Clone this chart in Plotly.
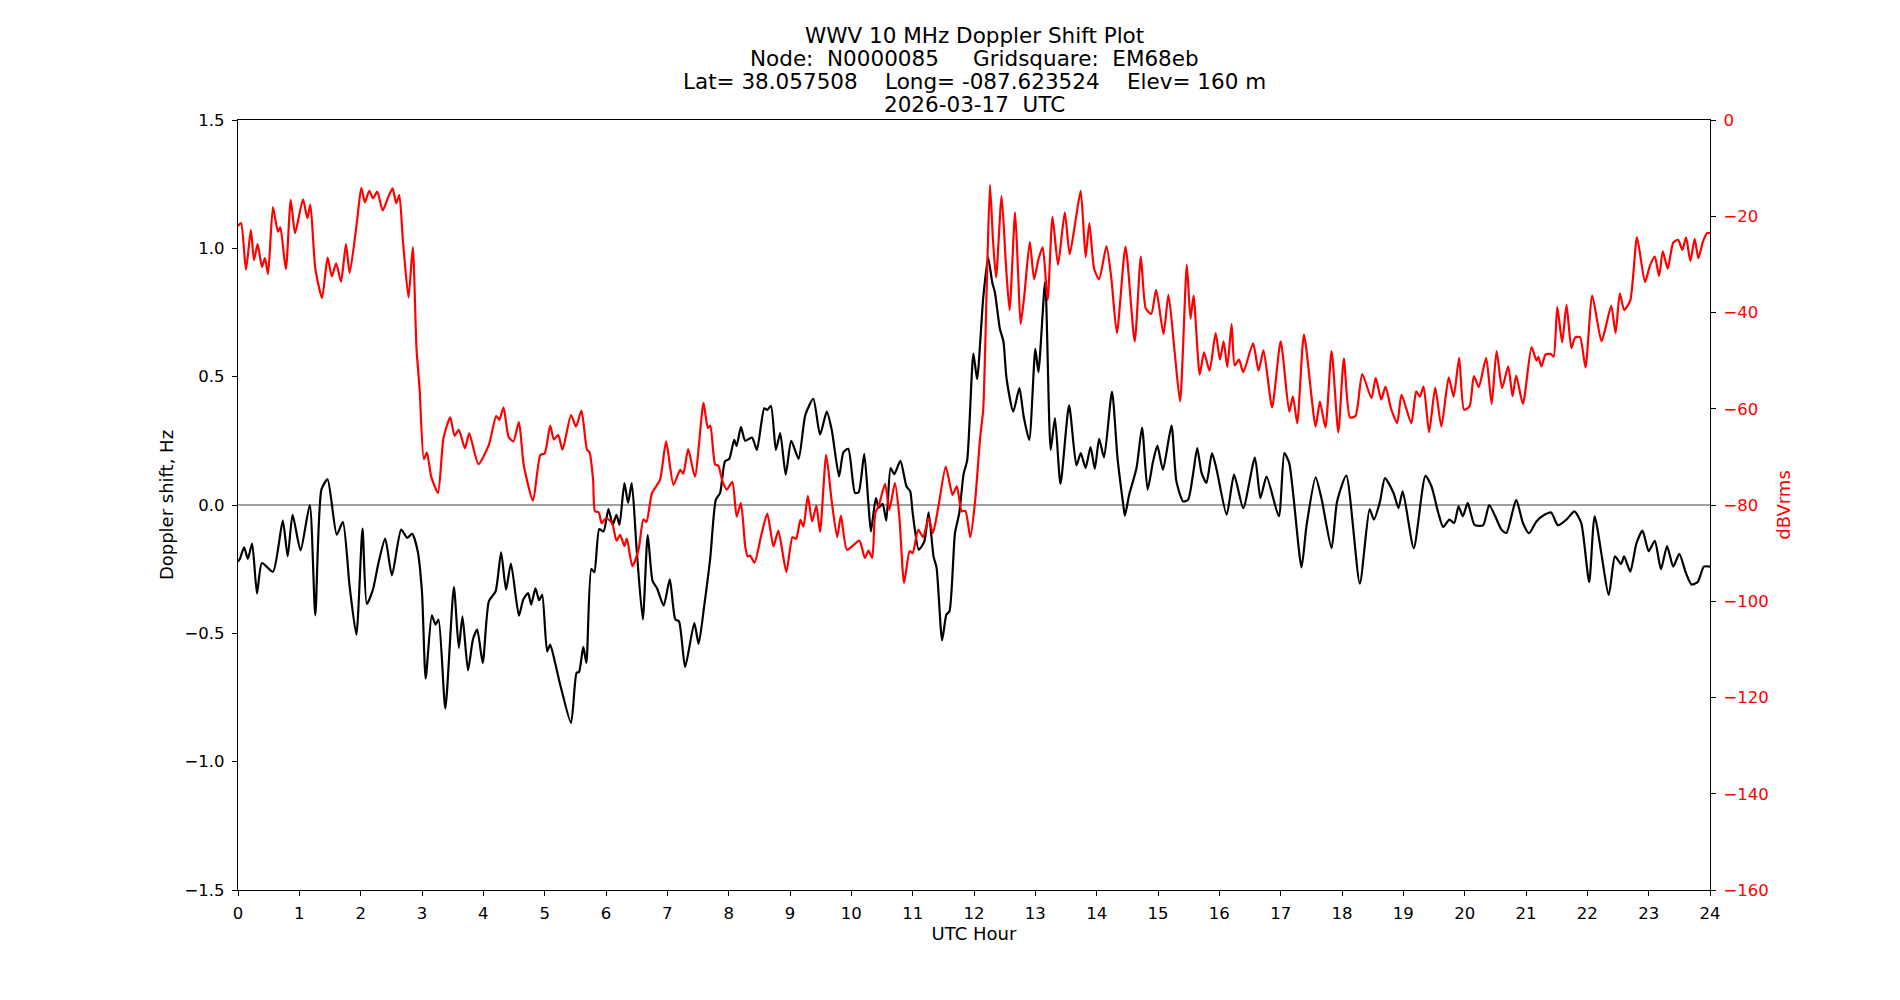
import plotly.graph_objects as go

# ---------------- data ----------------
title_lines = [
    "WWV 10 MHz Doppler Shift Plot",
    "Node:  N0000085     Gridsquare:  EM68eb",
    "Lat= 38.057508    Long= -087.623524    Elev= 160 m",
    "2026-03-17  UTC",
]

x_ticks = list(range(0, 25))
y_ticks = [-1.5, -1.0, -0.5, 0.0, 0.5, 1.0, 1.5]
y2_ticks = [-160, -140, -120, -100, -80, -60, -40, -20, 0]

doppler_hours = [
    0.0, 0.03, 0.1, 0.16, 0.23, 0.31, 0.39, 0.57, 0.73, 0.81, 0.89, 1.02, 1.17, 1.26, 1.36, 1.46,
    1.61, 1.71, 1.82, 1.93, 2.03, 2.1, 2.2, 2.29, 2.4, 2.51, 2.66, 2.76, 2.84, 2.93, 3.0, 3.06,
    3.16, 3.22, 3.27, 3.38, 3.52, 3.6, 3.66, 3.75, 3.83, 3.9, 3.99, 4.09, 4.2, 4.29, 4.37, 4.45,
    4.58, 4.65, 4.73, 4.78, 4.85, 4.91, 4.96, 5.04, 5.09, 5.17, 5.26, 5.43, 5.52, 5.56, 5.63, 5.68,
    5.76, 5.81, 5.89, 5.96, 6.04, 6.11, 6.17, 6.22, 6.3, 6.36, 6.42, 6.5, 6.6, 6.68, 6.76, 6.83,
    6.94, 7.04, 7.13, 7.19, 7.29, 7.44, 7.51, 7.6, 7.7, 7.79, 7.86, 7.94, 8.01, 8.09, 8.13, 8.2,
    8.27, 8.38, 8.46, 8.58, 8.63, 8.69, 8.77, 8.84, 8.93, 9.02, 9.14, 9.25, 9.38, 9.49, 9.6, 9.68,
    9.8, 9.87, 9.95, 10.06, 10.12, 10.21, 10.28, 10.32, 10.4, 10.45, 10.51, 10.57, 10.64, 10.7, 10.8, 10.9,
    10.96, 11.0, 11.1, 11.19, 11.26, 11.34, 11.39, 11.48, 11.55, 11.6, 11.69, 11.76, 11.83, 11.89, 11.99, 12.05,
    12.15, 12.23, 12.3, 12.34, 12.42, 12.48, 12.53, 12.64, 12.74, 12.81, 12.9, 13.0, 13.05, 13.16, 13.25, 13.32,
    13.41, 13.55, 13.67, 13.74, 13.82, 13.9, 13.97, 14.04, 14.12, 14.25, 14.34, 14.43, 14.46, 14.53, 14.65, 14.74,
    14.83, 14.92, 14.99, 15.08, 15.22, 15.3, 15.41, 15.49, 15.57, 15.64, 15.71, 15.79, 15.88, 15.95, 16.12, 16.24,
    16.39, 16.58, 16.67, 16.77, 16.97, 17.06, 17.14, 17.34, 17.42, 17.57, 17.67, 17.83, 17.92, 18.07, 18.29, 18.45,
    18.52, 18.62, 18.7, 18.84, 18.92, 18.99, 19.17, 19.36, 19.46, 19.57, 19.65, 19.75, 19.83, 19.9, 19.97, 20.05,
    20.16, 20.3, 20.4, 20.5, 20.6, 20.68, 20.84, 20.95, 21.05, 21.17, 21.3, 21.41, 21.52, 21.66, 21.79, 21.9,
    22.03, 22.12, 22.35, 22.45, 22.55, 22.6, 22.7, 22.8, 22.9, 23.0, 23.1, 23.2, 23.3, 23.4, 23.5, 23.6,
    23.7, 23.8, 23.9, 24.0,
]
doppler_hz = [
    -0.22, -0.21, -0.165, -0.21, -0.15, -0.345, -0.226, -0.26, -0.061, -0.2, -0.038, -0.177, 0.0, -0.43, 0.06, 0.1,
    -0.116, -0.066, -0.317, -0.505, -0.092, -0.385, -0.33, -0.226, -0.131, -0.274, -0.096, -0.128, -0.112, -0.18, -0.34, -0.676,
    -0.43, -0.466, -0.446, -0.793, -0.32, -0.557, -0.434, -0.644, -0.524, -0.485, -0.615, -0.375, -0.336, -0.184, -0.33, -0.228,
    -0.431, -0.369, -0.343, -0.388, -0.325, -0.371, -0.35, -0.57, -0.544, -0.615, -0.706, -0.849, -0.654, -0.651, -0.553, -0.615,
    -0.249, -0.262, -0.094, -0.103, -0.016, -0.077, -0.038, -0.077, 0.085, 0.008, 0.085, -0.174, -0.446, -0.116, -0.297, -0.323,
    -0.392, -0.29, -0.446, -0.453, -0.631, -0.46, -0.541, -0.395, -0.206, 0.02, 0.047, 0.17, 0.18, 0.254, 0.23, 0.304,
    0.25, 0.263, 0.215, 0.377, 0.37, 0.386, 0.215, 0.28, 0.118, 0.25, 0.18, 0.351, 0.414, 0.274, 0.364, 0.293,
    0.111, 0.205, 0.219, 0.047, 0.05, 0.199, 0.0, -0.103, 0.027, -0.01, 0.005, -0.061, 0.144, 0.12, 0.172, 0.072,
    0.053, -0.031, -0.174, -0.142, -0.029, -0.2, -0.245, -0.527, -0.427, -0.414, -0.109, -0.031, 0.12, 0.176, 0.59, 0.49,
    0.806, 0.964, 0.864, 0.83, 0.689, 0.637, 0.494, 0.364, 0.455, 0.345, 0.254, 0.608, 0.518, 0.87, 0.215, 0.339,
    0.082, 0.388, 0.154, 0.202, 0.144, 0.226, 0.141, 0.258, 0.185, 0.442, 0.183, 0.008, -0.042, 0.04, 0.144, 0.302,
    0.06, 0.17, 0.231, 0.137, 0.309, 0.092, 0.014, 0.02, 0.118, 0.222, 0.125, 0.086, 0.202, 0.144, -0.038, 0.118,
    -0.012, 0.185, 0.027, 0.111, -0.044, 0.202, 0.163, -0.243, -0.083, 0.108, 0.02, -0.168, 0.014, 0.115, -0.306, -0.016,
    -0.057, 0.014, 0.105, 0.047, -0.012, 0.053, -0.168, 0.114, 0.072, -0.031, -0.086, -0.057, -0.07, -0.005, -0.044, 0.008,
    -0.077, -0.079, 0.0, -0.045, -0.096, -0.109, 0.02, -0.07, -0.11, -0.064, -0.038, -0.029, -0.079, -0.057, -0.025, -0.07,
    -0.3, -0.044, -0.35, -0.2, -0.23, -0.2, -0.26, -0.15, -0.1, -0.18, -0.14, -0.25, -0.16, -0.24, -0.19, -0.26,
    -0.31, -0.3, -0.24, -0.24,
]

power_hours = [
    0.0, 0.05, 0.13, 0.21, 0.26, 0.32, 0.39, 0.44, 0.49, 0.57, 0.65, 0.69, 0.78, 0.86, 0.93, 1.06,
    1.13, 1.18, 1.26, 1.37, 1.46, 1.53, 1.6, 1.68, 1.76, 1.82, 1.94, 2.01, 2.07, 2.14, 2.2, 2.27,
    2.36, 2.45, 2.52, 2.58, 2.63, 2.69, 2.78, 2.85, 2.91, 2.96, 3.03, 3.08, 3.15, 3.26, 3.35, 3.46,
    3.53, 3.6, 3.7, 3.77, 3.92, 4.09, 4.21, 4.26, 4.33, 4.41, 4.49, 4.58, 4.66, 4.81, 4.93, 5.0,
    5.09, 5.15, 5.22, 5.29, 5.43, 5.51, 5.6, 5.69, 5.73, 5.79, 5.82, 5.88, 5.93, 6.0, 6.1, 6.17,
    6.23, 6.3, 6.34, 6.43, 6.53, 6.61, 6.66, 6.75, 6.88, 6.98, 7.1, 7.21, 7.26, 7.34, 7.45, 7.59,
    7.66, 7.7, 7.78, 7.83, 7.9, 7.97, 8.06, 8.13, 8.2, 8.27, 8.31, 8.35, 8.42, 8.54, 8.63, 8.73,
    8.81, 8.94, 9.04, 9.1, 9.17, 9.22, 9.29, 9.36, 9.43, 9.49, 9.59, 9.68, 9.77, 9.83, 9.93, 10.13,
    10.22, 10.28, 10.34, 10.39, 10.45, 10.55, 10.62, 10.71, 10.78, 10.86, 10.95, 11.0, 11.09, 11.17, 11.26, 11.33,
    11.42, 11.54, 11.65, 11.72, 11.8, 11.86, 11.94, 12.02, 12.1, 12.15, 12.21, 12.26, 12.31, 12.36, 12.45, 12.52,
    12.58, 12.67, 12.72, 12.76, 12.82, 12.91, 12.98, 13.05, 13.12, 13.2, 13.28, 13.37, 13.48, 13.56, 13.66, 13.74,
    13.82, 13.88, 13.96, 14.04, 14.16, 14.24, 14.33, 14.47, 14.62, 14.72, 14.8, 14.89, 14.97, 15.09, 15.17, 15.27,
    15.36, 15.47, 15.53, 15.58, 15.68, 15.75, 15.84, 15.94, 16.01, 16.07, 16.13, 16.2, 16.25, 16.32, 16.39, 16.55,
    16.64, 16.72, 16.86, 17.0, 17.14, 17.2, 17.27, 17.38, 17.57, 17.64, 17.73, 17.83, 17.94, 18.03, 18.13, 18.22,
    18.33, 18.48, 18.55, 18.64, 18.71, 18.8, 18.9, 18.97, 19.13, 19.21, 19.27, 19.33, 19.42, 19.52, 19.62, 19.74,
    19.82, 19.91, 19.99, 20.08, 20.15, 20.23, 20.35, 20.44, 20.52, 20.61, 20.71, 20.78, 20.84, 20.95, 21.09, 21.17,
    21.2, 21.25, 21.32, 21.4, 21.45, 21.51, 21.59, 21.66, 21.74, 21.8, 21.88, 21.97, 22.08, 22.23, 22.3, 22.39,
    22.46, 22.53, 22.6, 22.7, 22.81, 22.94, 23.02, 23.1, 23.17, 23.23, 23.31, 23.4, 23.48, 23.55, 23.61, 23.68,
    23.75, 23.81, 23.88, 23.95, 24.0,
]
power_dbvrms = [
    -22, -21.4, -31.1, -22.8, -29.1, -25.8, -30.5, -28.7, -32, -18.1, -23.2, -22.3, -31, -16.6, -23.5, -16.5,
    -20.4, -17.6, -30.8, -37, -28.6, -32.5, -29.8, -33.6, -25.8, -31.8, -21.1, -14.1, -17.1, -14.7, -16.3, -14.9,
    -18.8, -16, -14.2, -17.3, -15.6, -25.3, -36.9, -26.4, -47.4, -55.7, -70.5, -69.1, -74.1, -77.5, -66.1, -61.8,
    -65.6, -64.4, -68.2, -65.1, -71.5, -67.5, -61.5, -62.3, -59.7, -65.8, -66.8, -62.8, -71.8, -79.1, -69.6, -69.3,
    -63.5, -66.4, -65.4, -68.5, -61.3, -63.7, -60.4, -68.5, -69, -74.8, -81.3, -81.5, -83.8, -82.7, -83.8, -87.4,
    -86.2, -88.5, -87, -92.7, -89.3, -83, -83.5, -77.5, -74.8, -66.8, -75.8, -72.7, -73.5, -68.4, -74.1, -58.8,
    -64, -63.5, -71.6, -71.8, -75.1, -76.8, -75.2, -82.4, -79.6, -88.6, -90.7, -90.5, -92, -85.8, -81.8, -88.6,
    -85.3, -93.9, -86.7, -87, -83.1, -84.5, -78.1, -83.4, -80.2, -85.6, -69.6, -79.2, -86.7, -82.2, -89.3, -87.4,
    -91, -89.5, -91, -81.7, -80, -75.6, -81, -75.4, -82, -96.2, -89.6, -90, -85.1, -86.7, -82.7, -85.8,
    -80.3, -72, -77.9, -76.1, -81.3, -81.2, -86.7, -78.9, -66, -60.2, -33.6, -13.5, -25, -32.7, -15.8, -30,
    -39.5, -19.2, -32, -42.4, -36.5, -25.3, -33.1, -29, -26.4, -37.4, -20.1, -30.1, -19.2, -27.9, -20.5, -14.7,
    -28.5, -21.4, -31, -33.1, -26.2, -33, -44.3, -26.3, -46, -28.4, -39.1, -40.3, -35.3, -44.5, -36.3, -48,
    -58.5, -30.1, -41.3, -36.5, -52.9, -48.3, -52.1, -44.3, -49.8, -46, -51.3, -42.4, -51, -49.8, -52.4, -46.4,
    -52.1, -47.8, -59.7, -46, -60.6, -57.4, -63, -44.6, -63.7, -58.5, -63.9, -48, -64.9, -49.6, -61.8, -61.5,
    -52.8, -57.8, -53.6, -58.1, -55.4, -60, -63, -57.1, -63, -56.4, -57.5, -55.4, -64.9, -55.6, -63.7, -53.5,
    -57.5, -49.4, -60.2, -59.5, -53.2, -55.5, -49.4, -59, -48, -55.7, -51.2, -57.4, -53.1, -59, -47.2, -50,
    -49.2, -51.2, -48.7, -48.6, -49.2, -38.9, -46.2, -38.4, -47.4, -45.2, -45.1, -51.4, -36.5, -46, -43, -38.6,
    -44.3, -36, -39.5, -37.5, -24.4, -33.7, -30.3, -28.4, -32.4, -27.3, -30.9, -25.5, -24.9, -27, -24.4, -29.3,
    -24.7, -28.7, -25.5, -23.5, -23.5,
]

# ---------------- layout geometry ----------------
W, H = 1900, 1000
L, R, T, B = 238, 190, 120, 110
FONT = "DejaVu Sans"

fig = go.Figure()
fig.add_trace(go.Scatter(
    x=doppler_hours, y=doppler_hz, mode="lines",
    line=dict(color="black", width=2.2, shape="spline", smoothing=0.6),
    yaxis="y", showlegend=False, hoverinfo="skip",
))
fig.add_trace(go.Scatter(
    x=power_hours, y=power_dbvrms, mode="lines",
    line=dict(color="#ff0000", width=2.2, shape="spline", smoothing=0.6),
    yaxis="y2", showlegend=False, hoverinfo="skip",
))

fig.add_hline(y=0, line=dict(color="#808080", width=1.3), layer="below")

axis_common = dict(
    showgrid=False, zeroline=False, showline=True, linecolor="black", linewidth=1.2,
    ticks="outside", ticklen=5, tickwidth=1.2, tickcolor="black",
)

# helper: figure pixel y -> paper y
plot_h = H - T - B
def paper_y(py):
    return 1 + (T - py) / plot_h

annotations = []
for i, line in enumerate(title_lines):
    annotations.append(dict(
        text=line.replace(" ", "\u00a0"), xref="paper", yref="paper",
        x=0.5, y=paper_y(35.5 + i * 23), xanchor="center", yanchor="middle",
        showarrow=False, font=dict(family=FONT, size=21.5, color="black"),
    ))

fig.update_layout(
    width=W, height=H, autosize=False,
    margin=dict(l=L, r=R, t=T, b=B, pad=0),
    paper_bgcolor="white", plot_bgcolor="white",
    font=dict(family=FONT, size=16.5, color="black"),
    xaxis=dict(
        **axis_common, mirror=True, range=[0, 24], tickvals=x_ticks,
        title=dict(text="UTC Hour", font=dict(size=18)), title_standoff=1,
        ticklabelstandoff=3,
    ),
    yaxis=dict(
        **axis_common, range=[-1.5, 1.5], tickvals=y_ticks, tickformat=".1f",
        title=dict(text="Doppler shift, Hz", font=dict(size=18), standoff=6),
        ticklabelstandoff=4,
    ),
    yaxis2=dict(
        **axis_common, overlaying="y", side="right", range=[-160, 0], tickvals=y2_ticks,
        tickfont=dict(color="#ff0000"),
        title=dict(text="dBVrms", font=dict(size=18, color="#ff0000"), standoff=9),
        ticklabelstandoff=4,
    ),
    annotations=annotations,
)

fig.write_html("out.html")
